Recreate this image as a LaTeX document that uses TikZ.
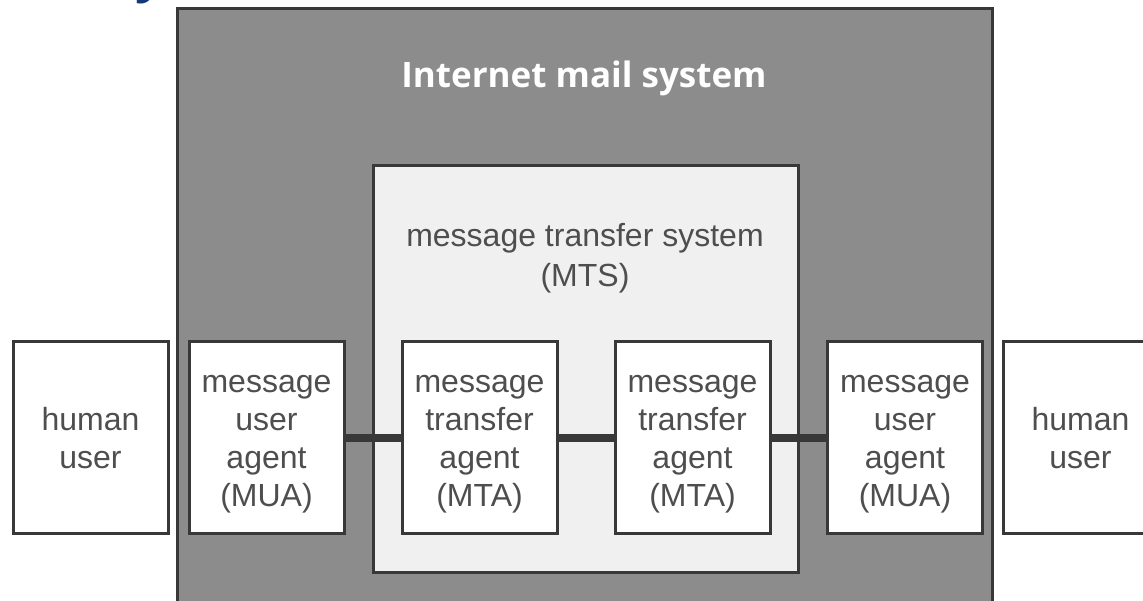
\documentclass[tikz,border=0pt]{standalone}
\usepackage{fontspec}
\setmainfont{Liberation Sans}
\newfontfamily\titlefont{Open Sans}
\definecolor{outerfill}{HTML}{8C8C8C}
\definecolor{mtsfill}{HTML}{F0F0F0}
\definecolor{edge}{HTML}{383838}
\definecolor{txt}{HTML}{4E4E4E}
\definecolor{headblue}{HTML}{123A78}
\begin{document}
\begin{tikzpicture}[x=1pt,y=-1pt,
  frame/.style={draw=edge, line width=3pt, inner sep=0pt},
  unitbox/.style={frame, fill=white, minimum width=155pt, minimum height=191pt},
  boxtext/.style={inner sep=0pt, align=center, text=txt, font=\fontsize{32}{38}\selectfont},
  link/.style={draw=edge, line width=8pt},
  label/.style={inner sep=0pt, align=center, anchor=base}]
\useasboundingbox (0,0) rectangle (1143,601);
% cropped title fragment
\node[label, text=headblue, font=\titlefont\bfseries\fontsize{52}{52}\selectfont] (frag) at (150,-8) {y};
% Internet mail system
\node[frame, fill=outerfill, minimum width=815pt, minimum height=606pt] (ims) at (584.5,312) {};
\node[label, text=white, font=\titlefont\bfseries\fontsize{35}{40}\selectfont] (imstitle) at (584,88) {Internet mail system};
% message transfer system
\node[frame, fill=mtsfill, minimum width=425pt, minimum height=406pt] (mts) at (585.5,369) {};
\node[label, text=txt, font=\fontsize{32}{40}\selectfont] (mtstitle) at (585,287) {message transfer system\\(MTS)};
% boxes
\node[unitbox] (hl) at (90.5,437.5) {};
\node[unitbox] (mual) at (266.5,437.5) {};
\node[unitbox] (mta1) at (479.5,437.5) {};
\node[unitbox] (mta2) at (692.5,437.5) {};
\node[unitbox] (muar) at (905,437.5) {};
\node[unitbox, minimum width=160pt] (hr) at (1083,437.5) {};
% box texts
\node[boxtext, yshift=-1pt] (hlt) at (hl.center) {human\\user};
\node[boxtext, yshift=-7pt] (mualt) at (mual.center) {message\\user\\agent\\(MUA)};
\node[boxtext, yshift=-7pt] (mta1t) at (mta1.center) {message\\transfer\\agent\\(MTA)};
\node[boxtext, yshift=-7pt] (mta2t) at (mta2.center) {message\\transfer\\agent\\(MTA)};
\node[boxtext, yshift=-7pt] (muart) at (muar.center) {message\\user\\agent\\(MUA)};
\node[boxtext, yshift=-1pt] (hrt) at ([xshift=-2.5pt]hr.center) {human\\user};
% connectors
\draw[link] (mual.east) -- (mta1.west);
\draw[link] (mta1.east) -- (mta2.west);
\draw[link] (mta2.east) -- (muar.west);
\end{tikzpicture}
\end{document}
